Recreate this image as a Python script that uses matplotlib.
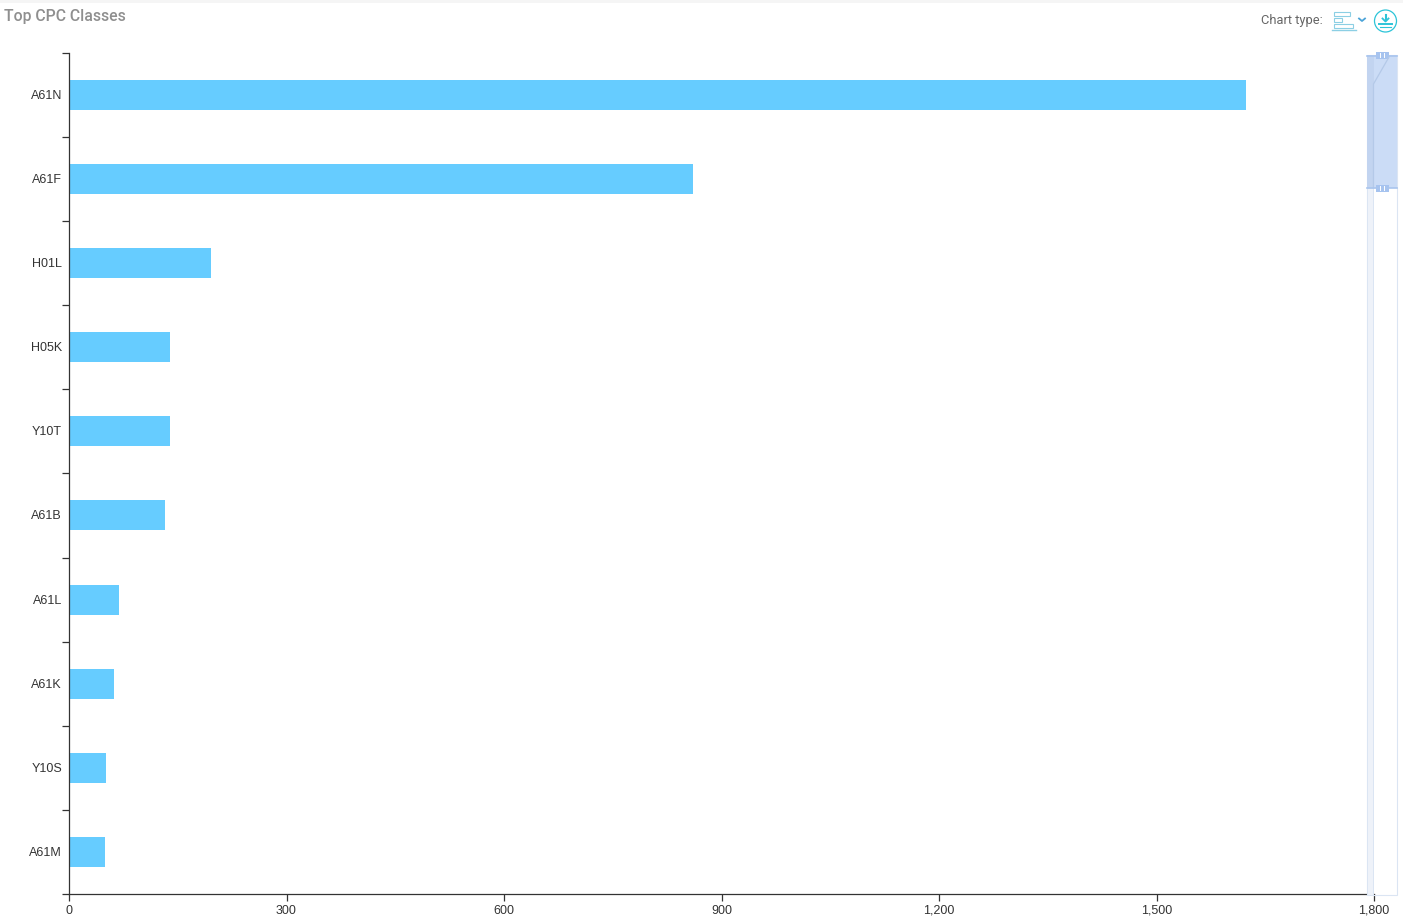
import matplotlib
matplotlib.use("Agg")
import matplotlib.pyplot as plt
from matplotlib.patches import Rectangle, Circle
from matplotlib.transforms import ScaledTranslation

categories = ["A61N", "A61F", "H01L", "H05K", "Y10T", "A61B", "A61L", "A61K", "Y10S", "A61M"]
values = [1624, 861, 196, 139, 139, 133, 69, 62, 51, 50]
x_ticks = [0, 300, 600, 900, 1200, 1500, 1800]
x_tick_labels = ["0", "300", "600", "900", "1,200", "1,500", "1,800"]

W, H = 1403, 917
plt.rcParams["font.family"] = ["Liberation Sans", "DejaVu Sans"]
fig = plt.figure(figsize=(W / 100, H / 100), dpi=100)
fig.patch.set_facecolor("white")

# main chart
L, R, T, B = 69, 1374, 52.6, 894.2
ax = fig.add_axes([L / W, 1 - B / H, (R - L) / W, (B - T) / H])
n = len(categories)
ax.barh(range(n), values, height=30 / 84.15, color="#66ccff", edgecolor="none", zorder=2)
ax.set_ylim(n - 0.5, -0.5)
ax.set_xlim(0, 1800)
for s in ("top", "right"):
    ax.spines[s].set_visible(False)
for s in ("left", "bottom"):
    ax.spines[s].set_color("#333333")
    ax.spines[s].set_linewidth(0.9)
ax.set_xticks(x_ticks, x_tick_labels)
ax.set_yticks(range(n), categories)
ax.set_yticks([i - 0.5 for i in range(n + 1)], minor=True)
ax.tick_params(axis="x", length=5, width=0.9, color="#333333", labelsize=9, labelcolor="#333333", pad=2.5)
ax.tick_params(axis="y", which="major", length=0, labelsize=9, labelcolor="#333333", pad=5)
ax.tick_params(axis="y", which="minor", length=5, width=0.9, color="#333333")
shift = ScaledTranslation(0, 0.5 / 100, fig.dpi_scale_trans)
for lab in ax.get_yticklabels():
    lab.set_transform(lab.get_transform() + shift)

# overlay in pixel coordinates for page furniture
ov = fig.add_axes([0, 0, 1, 1], facecolor="none")
ov.set_xlim(0, W)
ov.set_ylim(H, 0)
ov.axis("off")
ov.add_patch(Rectangle((0, 0), W, 2.5, color="#f5f5f5", lw=0))
ov.text(4, 16, "Top CPC Classes", fontsize=11.3, family="Roboto", weight="medium", color="#8f8f8f", va="center", ha="left")
ov.text(1322.5, 20.5, "Chart type:", fontsize=9.3, family="Roboto", color="#666666", va="center", ha="right")

# chart type icon
ic = "#8ccfe4"
for x, y, w, h in [(1334, 11.5, 15.5, 4.5), (1334, 17.5, 8, 4), (1334, 23.5, 19, 4.5)]:
    ov.add_patch(Rectangle((x, y), w, h, fill=False, ec=ic, lw=0.8))
ov.plot([1332, 1356], [29.5, 29.5], color=ic, lw=1.0)
ov.plot([1359, 1362, 1365], [18.5, 21, 18.5], color="#4aa3d8", lw=1.3)

# download icon
dl = "#2cc4d8"
ov.add_patch(Circle((1385.5, 21), 11, fill=False, ec=dl, lw=0.9))
ov.plot([1385.5, 1385.5], [14.5, 20], color=dl, lw=1.5)
ov.plot([1382.5, 1385.5, 1388.5], [18.5, 21.5, 18.5], color=dl, lw=1.3)
ov.plot([1379, 1392], [24, 24], color=dl, lw=1.4)
ov.plot([1380, 1391], [26.5, 26.5], color=dl, lw=0.8)

# data zoom slider
sl, sr = 1367, 1396.5
ov.add_patch(Rectangle((sl, 55), sr - sl, 840, fill=False, ec="#dbe5f3", lw=0.8))
ov.add_patch(Rectangle((sl, 188), 6, 707, fc="#eef2f9", ec="#dbe5f3", lw=0.7))
ov.add_patch(Rectangle((sl, 55), sr - sl, 133, fc="#cbdcf6", ec="none"))
ov.add_patch(Rectangle((sl, 55), 6.5, 133, fc="#c2d4f0", ec="none"))
ov.plot([1373.5, 1373.5, 1389], [188, 84, 57], color="#b4c9e8", lw=0.9)
ov.plot([sl, sr], [55.5, 55.5], color="#a9c5ee", lw=1.2)
ov.plot([sl, sr], [188, 188], color="#a9c5ee", lw=1.2)
for y in (55, 188):
    ov.add_patch(Rectangle((1375.5, y - 3.5), 13, 7, fc="#a6c3ef", ec="none"))
    ov.plot([1380, 1380], [y - 2, y + 2], color="white", lw=0.7)
    ov.plot([1384, 1384], [y - 2, y + 2], color="white", lw=0.7)

fig.savefig("out.png", dpi=100, facecolor="white")
